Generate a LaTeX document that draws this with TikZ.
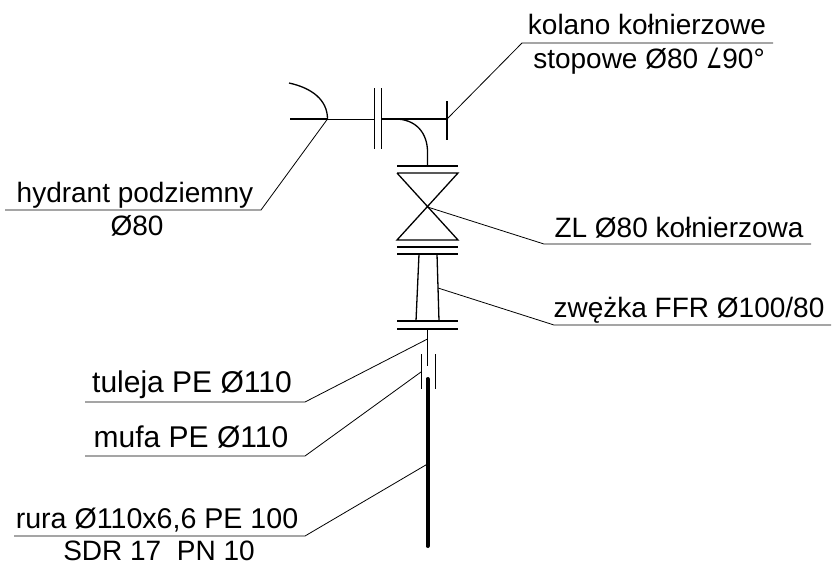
\documentclass[tikz,border=0pt]{standalone}
\usepackage{fontspec}
\setmainfont{Liberation Sans}
\newfontfamily\symfont[FakeStretch=0.65]{DejaVu Sans}
\tikzset{
  label/.style={anchor=base,inner sep=0pt,font=\fontsize{28}{32}\selectfont},
  biglabel/.style={label,font=\fontsize{30}{34}\selectfont},
  leader/.style={line width=0.8pt},
  pipe/.style={line width=1.3pt},
  thinpipe/.style={line width=1pt},
  thickpipe/.style={line width=4pt,line cap=round},
}
\begin{document}
\begin{tikzpicture}[x=1pt,y=-1pt]
\useasboundingbox (0,0) rectangle (832,565);
% hydrant and elbow
\draw[pipe] (290,119) -- (327.5,119);
\draw[pipe] (289,83) .. controls (312,88) and (327.5,100) .. (327.5,119);
\draw[thinpipe] (327.5,119) -- (374,119);
\draw[thinpipe] (374,88) -- (374,149);
\draw[thinpipe] (381,88) -- (381,149);
\draw[pipe] (381,119) -- (447,119);
\draw[pipe] (447,101) -- (447,140);
\draw[pipe] (395,119) .. controls (416,119) and (427.5,133) .. (427.5,152) -- (427.5,166);
% valve
\draw[pipe] (397,166) -- (458,166);
\draw[pipe] (397,173) -- (458,173) -- (397,240) -- (458,240) -- (397,173);
% reducer
\draw[pipe] (397,247) -- (458,247);
\draw[pipe] (397,254) -- (458,254);
\draw[pipe] (419,254) -- (416,321);
\draw[pipe] (437,254) -- (439,321);
\draw[pipe] (397,321) -- (458,321);
\draw[pipe] (397,329) -- (458,329);
% sleeve and pipe
\draw[thinpipe] (427.5,329) -- (427.5,366);
\draw[thinpipe] (421,354) -- (421,389);
\draw[thinpipe] (435,354) -- (435,389);
\draw[thickpipe] (427.5,379) -- (427.5,546);
% labels
\node[label] (kolano) at (647,34) {kolano kołnierzowe};
\node[label] (stopowe) at (649,68) {stopowe Ø80 {\symfont ∠}90°};
\node[label] (hydrant) at (135,202) {hydrant podziemny};
\node[label] (hydrantdn) at (137,235) {Ø80};
\node[label] (zl) at (679,237) {ZL Ø80 kołnierzowa};
\node[label] (zwezka) at (689,317) {zwężka FFR Ø100/80};
\node[biglabel] (tuleja) at (192,392) {tuleja PE Ø110};
\node[biglabel] (mufa) at (191,447) {mufa PE Ø110};
\node[label,font=\fontsize{28.6}{32}\selectfont] (rura) at (157,528) {rura Ø110x6,6 PE 100};
\node[label] (sdr) at (159,560.5) {SDR 17\ \ PN 10};
% leaders
\coordinate (kolanoa) at (447,119);
\coordinate (kolanob) at (522,43);
\coordinate (kolanoc) at (773,43);
\coordinate (hydranta) at (327.5,119);
\coordinate (hydrantb) at (261,210);
\coordinate (hydrantc) at (5,210);
\coordinate (zla) at (427.5,207);
\coordinate (zlb) at (544,244);
\coordinate (zlc) at (811,244);
\coordinate (zwezkaa) at (438,288);
\coordinate (zwezkab) at (554,325);
\coordinate (zwezkac) at (831,325);
\coordinate (tulejaa) at (427.5,339);
\coordinate (tulejab) at (305,402);
\coordinate (tulejac) at (85,402);
\coordinate (mufaa) at (421,372);
\coordinate (mufab) at (305,456);
\coordinate (mufac) at (85,456);
\coordinate (ruraa) at (427.5,464);
\coordinate (rurab) at (305,536);
\coordinate (rurac) at (14,536);
\draw[leader] (kolanoa) -- (kolanob) -- (kolanoc);
\draw[leader] (hydranta) -- (hydrantb) -- (hydrantc);
\draw[leader] (zla) -- (zlb) -- (zlc);
\draw[leader] (zwezkaa) -- (zwezkab) -- (zwezkac);
\draw[leader] (tulejaa) -- (tulejab) -- (tulejac);
\draw[leader] (mufaa) -- (mufab) -- (mufac);
\draw[leader] (ruraa) -- (rurab) -- (rurac);
\end{tikzpicture}
\end{document}
